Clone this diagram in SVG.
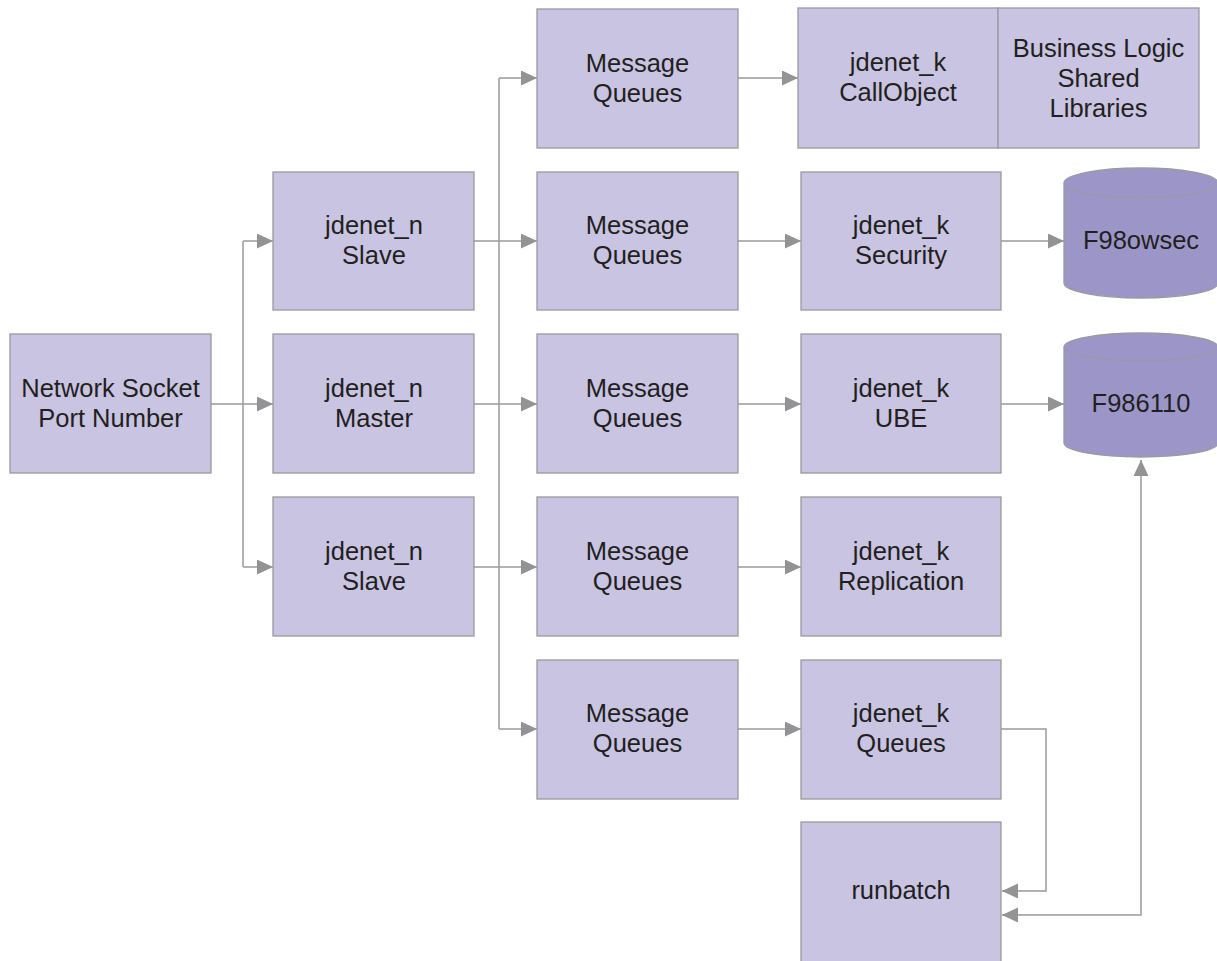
<svg xmlns="http://www.w3.org/2000/svg" width="1217" height="961" viewBox="0 0 1217 961">
<style>
.box{fill:#c8c4e2;stroke:#9a9a9e;stroke-width:1.3}
.db{fill:#9c96c8;stroke:#9a9a9e;stroke-width:1.3}
.t{font-family:"Liberation Sans",Arial,sans-serif;font-size:25.5px;fill:#231f20;text-anchor:middle}
.c{fill:none;stroke:#9a9a9e;stroke-width:1.5}
</style>
<defs>
<marker id="ah" markerUnits="userSpaceOnUse" markerWidth="17" markerHeight="17" refX="16" refY="7.5" orient="auto">
<path d="M0,0 L16,7.5 L0,15 z" fill="#939396"/>
</marker>
<marker id="ahs" markerUnits="userSpaceOnUse" markerWidth="17" markerHeight="17" refX="0" refY="7.5" orient="auto">
<path d="M16,0 L0,7.5 L16,15 z" fill="#939396"/>
</marker>
</defs>
<rect width="1217" height="961" fill="#ffffff"/>
<g id="connectors">
<path class="c" d="M211,404 H243" />
<path class="c" d="M243,241 V567" />
<path class="c" d="M243,241 H273" marker-end="url(#ah)"/>
<path class="c" d="M243,404 H273" marker-end="url(#ah)"/>
<path class="c" d="M243,567 H273" marker-end="url(#ah)"/>
<path class="c" d="M474,241 H537" marker-end="url(#ah)"/>
<path class="c" d="M474,404 H537" marker-end="url(#ah)"/>
<path class="c" d="M474,567 H537" marker-end="url(#ah)"/>
<path class="c" d="M499,78 V729" />
<path class="c" d="M499,78 H537" marker-end="url(#ah)"/>
<path class="c" d="M499,729 H537" marker-end="url(#ah)"/>
<path class="c" d="M738,78 H798" marker-end="url(#ah)"/>
<path class="c" d="M738,241 H801" marker-end="url(#ah)"/>
<path class="c" d="M738,404 H801" marker-end="url(#ah)"/>
<path class="c" d="M738,567 H801" marker-end="url(#ah)"/>
<path class="c" d="M738,729 H801" marker-end="url(#ah)"/>
<path class="c" d="M1001,241 H1064" marker-end="url(#ah)"/>
<path class="c" d="M1001,404 H1064" marker-end="url(#ah)"/>
<path class="c" d="M1001,729 H1046 V891 H1002" marker-end="url(#ah)"/>
<path class="c" d="M1141,460 V915 H1002" marker-start="url(#ahs)" marker-end="url(#ah)"/>
</g>
<g id="network-socket"><rect class="box" x="10" y="334" width="201" height="139"/><text class="t" x="110.5" y="397">Network Socket</text><text class="t" x="110.5" y="427">Port Number</text></g>
<g id="jdenet-n-slave-1"><rect class="box" x="273" y="172" width="201" height="138"/><text class="t" x="374" y="234">jdenet_n</text><text class="t" x="374" y="264">Slave</text></g>
<g id="jdenet-n-master"><rect class="box" x="273" y="334" width="201" height="139"/><text class="t" x="374" y="397">jdenet_n</text><text class="t" x="374" y="427">Master</text></g>
<g id="jdenet-n-slave-2"><rect class="box" x="273" y="497" width="201" height="139"/><text class="t" x="374" y="560">jdenet_n</text><text class="t" x="374" y="590">Slave</text></g>
<g id="mq-1"><rect class="box" x="537" y="9" width="201" height="139"/><text class="t" x="637.5" y="72">Message</text><text class="t" x="637.5" y="102">Queues</text></g>
<g id="mq-2"><rect class="box" x="537" y="172" width="201" height="138"/><text class="t" x="637.5" y="234">Message</text><text class="t" x="637.5" y="264">Queues</text></g>
<g id="mq-3"><rect class="box" x="537" y="334" width="201" height="139"/><text class="t" x="637.5" y="397">Message</text><text class="t" x="637.5" y="427">Queues</text></g>
<g id="mq-4"><rect class="box" x="537" y="497" width="201" height="139"/><text class="t" x="637.5" y="560">Message</text><text class="t" x="637.5" y="590">Queues</text></g>
<g id="mq-5"><rect class="box" x="537" y="660" width="201" height="139"/><text class="t" x="637.5" y="722">Message</text><text class="t" x="637.5" y="752">Queues</text></g>
<g id="jdenet-k-callobject"><rect class="box" x="798" y="8" width="200" height="140"/><text class="t" x="898" y="71">jdenet_k</text><text class="t" x="898" y="101">CallObject</text></g>
<g id="business-logic"><rect class="box" x="998" y="8" width="201" height="140"/><text class="t" x="1098.5" y="57">Business Logic</text><text class="t" x="1098.5" y="87">Shared</text><text class="t" x="1098.5" y="117">Libraries</text></g>
<g id="jdenet-k-security"><rect class="box" x="801" y="172" width="200" height="138"/><text class="t" x="901" y="234">jdenet_k</text><text class="t" x="901" y="264">Security</text></g>
<g id="jdenet-k-ube"><rect class="box" x="801" y="334" width="200" height="139"/><text class="t" x="901" y="397">jdenet_k</text><text class="t" x="901" y="427">UBE</text></g>
<g id="jdenet-k-replication"><rect class="box" x="801" y="497" width="200" height="139"/><text class="t" x="901" y="560">jdenet_k</text><text class="t" x="901" y="590">Replication</text></g>
<g id="jdenet-k-queues"><rect class="box" x="801" y="660" width="200" height="139"/><text class="t" x="901" y="722">jdenet_k</text><text class="t" x="901" y="752">Queues</text></g>
<g id="runbatch"><rect class="box" x="801" y="822" width="200" height="150"/><text class="t" x="901" y="899">runbatch</text></g>
<g id="f98owsec"><path class="db" d="M1064,183 A77,15 0 0 1 1218,183 V283 A77,15 0 0 1 1064,283 Z"/><path class="c" style="stroke-width:1" d="M1064,183 A77,15 0 0 0 1218,183"/><text class="t" x="1141" y="249">F98owsec</text></g>
<g id="f986110"><path class="db" d="M1064,347 A77,14 0 0 1 1218,347 V443 A77,14 0 0 1 1064,443 Z"/><path class="c" style="stroke-width:1" d="M1064,347 A77,14 0 0 0 1218,347"/><text class="t" x="1141" y="412">F986110</text></g>
</svg>
